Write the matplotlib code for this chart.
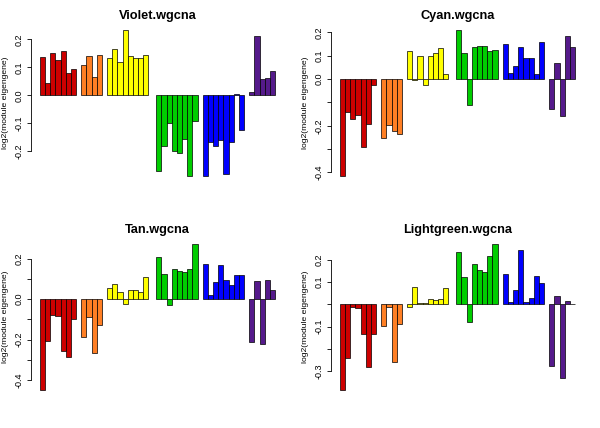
import matplotlib
matplotlib.use("Agg")
import matplotlib.pyplot as plt
import numpy as np

plt.rcParams['font.family'] = ['Liberation Sans', 'DejaVu Sans']

# module colour groups (bars per group)
group_colors = ['#CD0000', '#FF7F24', '#FFFF00', '#00CD00', '#0000FF', '#551A8B']
group_sizes = [7, 4, 8, 8, 8, 5]

titles = ['Violet.wgcna', 'Cyan.wgcna', 'Tan.wgcna', 'Lightgreen.wgcna']

violet = [0.138, 0.044, 0.150, 0.126, 0.157, 0.080, 0.095,
          0.108, 0.142, 0.067, 0.143,
          0.133, 0.164, 0.119, 0.232, 0.142, 0.133, 0.132, 0.143,
          -0.270, -0.180, -0.098, -0.199, -0.207, -0.157, -0.287, -0.090,
          -0.287, -0.167, -0.181, -0.160, -0.280, -0.165, 0.005, -0.123,
          0.010, 0.210, 0.058, 0.061, 0.086]

cyan = [-0.414, -0.140, -0.171, -0.154, -0.289, -0.194, -0.027,
        -0.251, -0.197, -0.223, -0.236,
        0.120, -0.003, 0.099, -0.027, 0.099, 0.110, 0.133, 0.020,
        0.209, 0.111, -0.109, 0.137, 0.141, 0.140, 0.121, 0.124,
        0.151, 0.026, 0.057, 0.136, 0.091, 0.089, 0.023, 0.161,
        -0.127, 0.069, -0.157, 0.183, 0.136]

tan = [-0.448, -0.205, -0.081, -0.086, -0.258, -0.284, -0.099,
       -0.185, -0.089, -0.268, -0.129,
       0.056, 0.073, 0.035, -0.023, 0.045, 0.045, 0.036, 0.107,
       0.207, 0.124, -0.031, 0.149, 0.139, 0.134, 0.149, 0.271,
       0.172, 0.018, 0.084, 0.167, 0.096, 0.068, 0.117, 0.117,
       -0.212, 0.088, -0.220, 0.094, 0.043]

lightgreen = [-0.384, -0.241, -0.013, -0.018, -0.133, -0.282, -0.133,
              -0.099, -0.012, -0.260, -0.090,
              -0.012, 0.077, 0.005, 0.006, 0.022, 0.018, 0.025, 0.072,
              0.235, 0.121, -0.080, 0.180, 0.156, 0.144, 0.219, 0.270,
              0.135, 0.010, 0.064, 0.243, 0.009, 0.028, 0.129, 0.094,
              -0.279, 0.039, -0.330, 0.017, 0.003]

panel_ticks = [[-0.2, -0.1, 0.0, 0.1, 0.2],
               [-0.4, -0.3, -0.2, -0.1, 0.0, 0.1, 0.2],
               [-0.4, -0.3, -0.2, -0.1, 0.0, 0.1, 0.2],
               [-0.3, -0.2, -0.1, 0.0, 0.1, 0.2]]
panel_ticklabels = [['-0.2', '-0.1', '0.0', '0.1', '0.2'],
                    ['-0.4', '', '-0.2', '', '0.0', '0.1', '0.2'],
                    ['-0.4', '', '-0.2', '', '0.0', '', '0.2'],
                    ['-0.3', '', '-0.1', '', '0.1', '0.2']]

# gaps (in bar widths) between successive groups
gaps = [1, 1, 1.5, 1, 1]

x, colors = [], []
pos = 0.0
for g, (n, c) in enumerate(zip(group_sizes, group_colors)):
    for i in range(n):
        x.append(pos + i)
        colors.append(c)
    pos += n
    if g < len(gaps):
        pos += gaps[g]
x = np.array(x)
total = pos

W, H = 600, 428
fig = plt.figure(figsize=(W / 100, H / 100), dpi=100)
rects = [(30.6, 24.5), (330.6, 24.5), (30.6, 238.5), (330.6, 238.5)]
aw, ah = 253.8, 157.0

for k, vals in enumerate([violet, cyan, tan, lightgreen]):
    px, py = rects[k]
    ax = fig.add_axes([px / W, 1 - (py + ah) / H, aw / W, ah / H])
    ax.bar(x, vals, width=1.0, align='edge', color=colors,
           edgecolor='black', linewidth=0.5)
    lo, hi = min(0, min(vals)), max(0, max(vals))
    pad = 0.04 * (hi - lo)
    ax.set_ylim(lo - pad, hi + pad)
    ax.set_xlim(-0.04 * total, total * 1.04)
    for s in ['top', 'right', 'bottom']:
        ax.spines[s].set_visible(False)
    ax.spines['left'].set_bounds(panel_ticks[k][0], panel_ticks[k][-1])
    ax.spines['left'].set_linewidth(0.6)
    ax.set_xticks([])
    ax.set_yticks(panel_ticks[k])
    ax.set_yticklabels(panel_ticklabels[k], rotation=90, va='center', fontsize=6.5)
    ax.tick_params(axis='y', direction='out', length=3, width=0.6, pad=2.2)
    ax.set_ylabel('log2(module eigengene)', fontsize=6.1, va='center')
    ax.yaxis.set_label_coords((5.2 - 30.6) / aw, 0.5)
    ax.set_title(titles[k], fontsize=9.2, fontweight='bold', pad=4)
    ax.patch.set_alpha(0)

fig.savefig('out.png', dpi=100)
